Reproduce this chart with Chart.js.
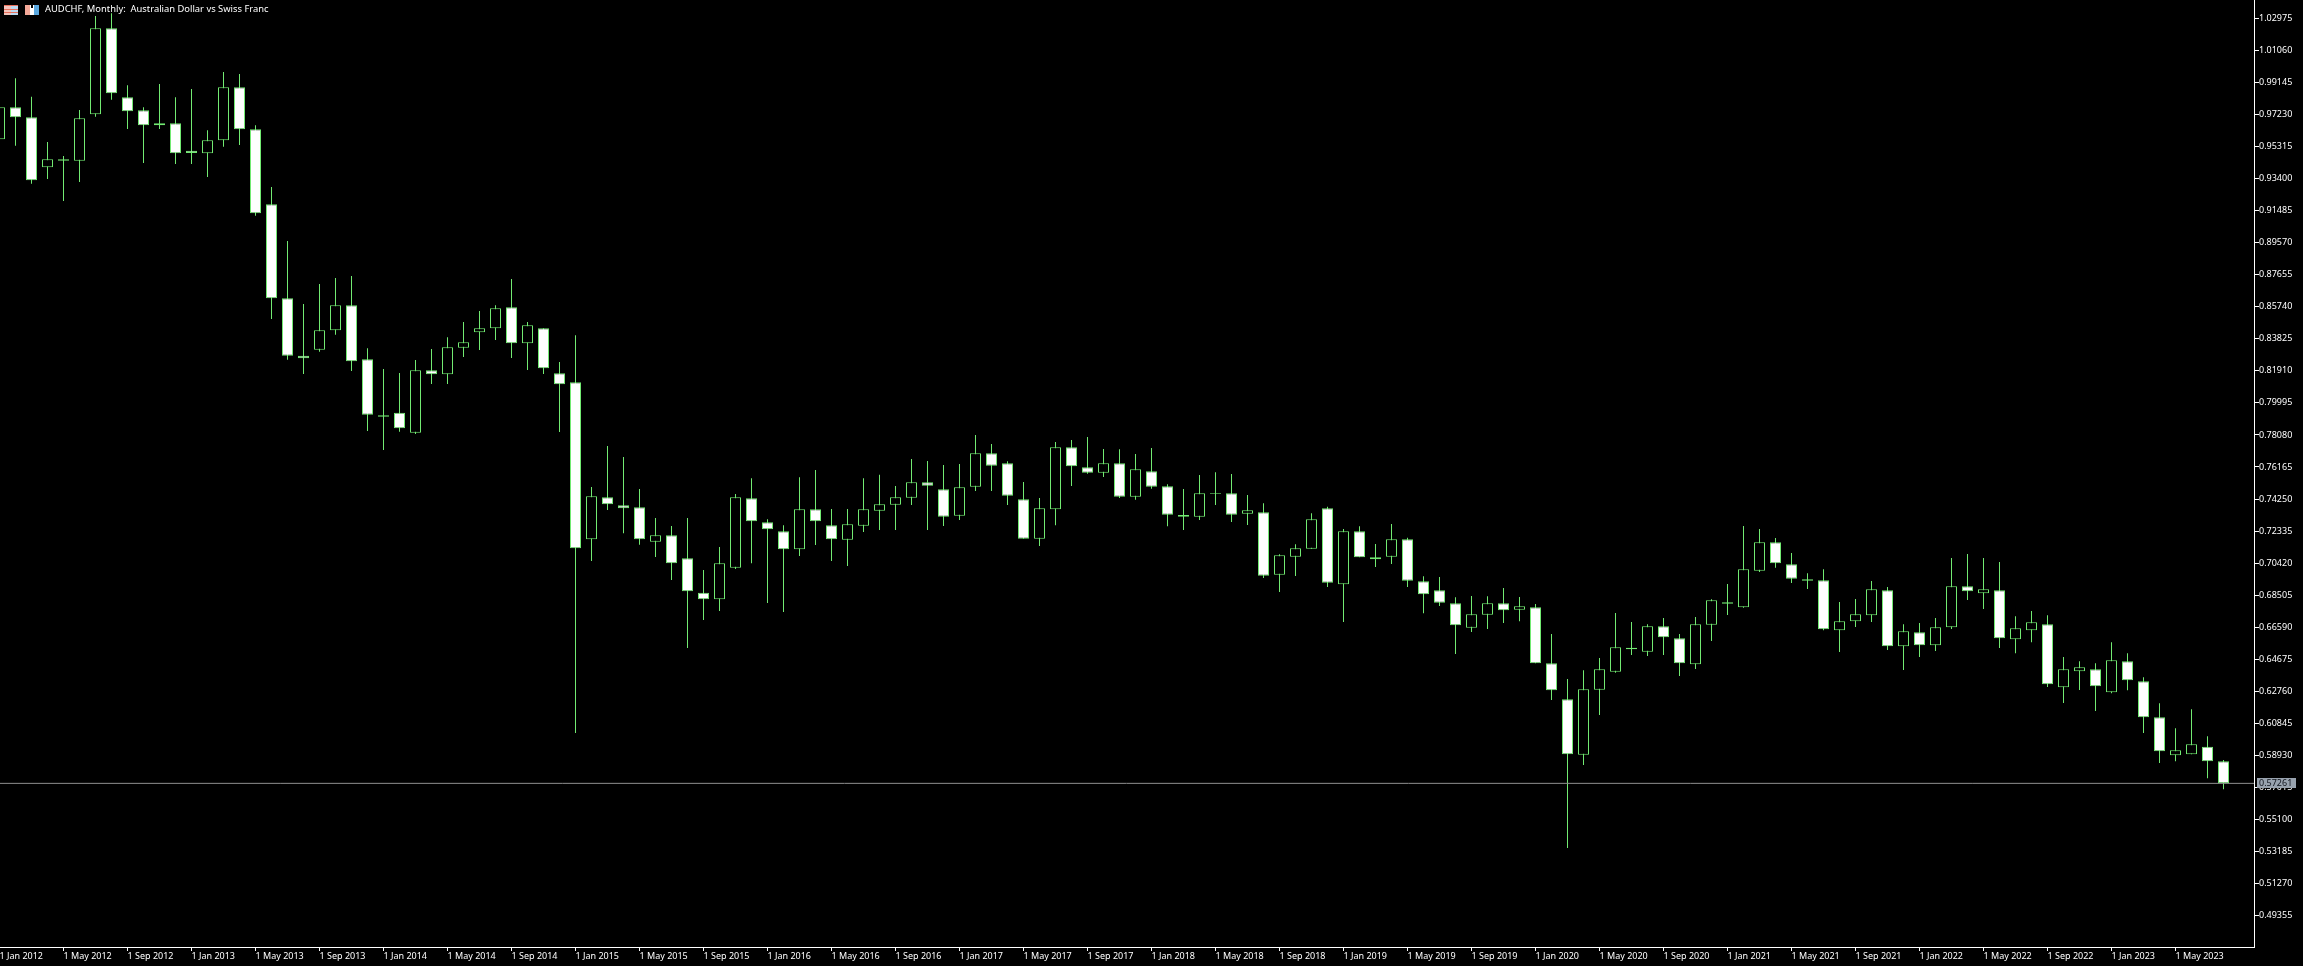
<!DOCTYPE html>
<html>
<head>
  <meta charset="utf-8">
  <title>AUDCHF, Monthly</title>
  <script src="https://cdn.jsdelivr.net/npm/chart.js"></script>
  <style>
    html, body { margin: 0; padding: 0; background: #000; overflow: hidden; }
    #wrap { position: absolute; left: -1px; top: 0; width: 2304px; height: 966px; }
    canvas { display: block; }
  </style>
</head>
<body>
  <div id="wrap"><canvas id="myChart" width="2304" height="966"></canvas></div>
  <script>
    const titleText = 'AUDCHF, Monthly:  Australian Dollar vs Swiss Franc';
    const lastPrice = 0.57261;

    // Monthly candles, Jan 2012 to Aug 2023
    const highP = [
      0.98093, 0.99388, 0.98292, 0.95583, 0.94747, 0.97495, 1.03112, 1.03271, 0.98969, 0.97655, 0.99049, 0.98252,
      0.98750, 0.96280, 0.99766, 0.99646, 0.96579, 0.92895, 0.89668, 0.85904, 0.87099, 0.87457, 0.87577, 0.83255,
      0.82020, 0.81781, 0.82558, 0.83215, 0.83912, 0.84828, 0.85485, 0.85824, 0.87397, 0.84828, 0.84450, 0.82438,
      0.84031, 0.74969, 0.77419, 0.76762, 0.74850, 0.73117, 0.72639, 0.73117, 0.70010, 0.71384, 0.74551, 0.75487,
      0.73037, 0.72679, 0.75547, 0.75985, 0.73655, 0.73655, 0.75488, 0.75707, 0.75029, 0.76643, 0.76523, 0.76284,
      0.76344, 0.78077, 0.77539, 0.76503, 0.75268, 0.74312, 0.77658, 0.77778, 0.77957, 0.77240, 0.77220, 0.76941,
      0.77300, 0.75129, 0.74850, 0.75687, 0.75846, 0.75746, 0.74492, 0.73994, 0.70946, 0.71544, 0.73396, 0.73795,
      0.72460, 0.72619, 0.71564, 0.72759, 0.71942, 0.69632, 0.69592, 0.68377, 0.68457, 0.68437, 0.68935, 0.68397,
      0.67978, 0.66185, 0.63497, 0.64014, 0.64751, 0.67440, 0.66902, 0.66763, 0.67141, 0.66185, 0.67201, 0.68257,
      0.69173, 0.72638, 0.72459, 0.71921, 0.71025, 0.69810, 0.70049, 0.68097, 0.68277, 0.69352, 0.68994, 0.66763,
      0.66843, 0.67141, 0.70726, 0.70965, 0.70726, 0.70487, 0.67241, 0.67560, 0.67301, 0.64811, 0.64552, 0.64433,
      0.65687, 0.65030, 0.63596, 0.62043, 0.60549, 0.61684, 0.60071, 0.58657
    ];
    const lowP = [
      0.95305, 0.95364, 0.93094, 0.93373, 0.92058, 0.93193, 0.97097, 0.98113, 0.96360, 0.94329, 0.96360, 0.94269,
      0.94269, 0.93492, 0.95305, 0.95404, 0.91182, 0.85007, 0.82578, 0.81721, 0.83056, 0.84071, 0.81900, 0.78315,
      0.77180, 0.78275, 0.78136, 0.81123, 0.81123, 0.82737, 0.83155, 0.83752, 0.82677, 0.81960, 0.81721, 0.78255,
      0.60270, 0.70547, 0.73595, 0.72201, 0.71523, 0.70787, 0.69412, 0.65349, 0.67022, 0.67560, 0.70069, 0.70408,
      0.68038, 0.67500, 0.70846, 0.71503, 0.70548, 0.70249, 0.72281, 0.72400, 0.72400, 0.73894, 0.72400, 0.72639,
      0.72998, 0.74731, 0.74731, 0.73894, 0.71883, 0.71444, 0.72679, 0.75029, 0.75766, 0.75567, 0.74312, 0.74213,
      0.74870, 0.72619, 0.72400, 0.72998, 0.73894, 0.72878, 0.72699, 0.69532, 0.68696, 0.69652, 0.71285, 0.68995,
      0.66903, 0.70767, 0.70190, 0.70369, 0.68995, 0.67421, 0.67859, 0.64991, 0.66306, 0.66485, 0.66844, 0.66943,
      0.64433, 0.62242, 0.53399, 0.58358, 0.61346, 0.63875, 0.64931, 0.64871, 0.64931, 0.63676, 0.64094, 0.65767,
      0.67321, 0.67759, 0.69890, 0.70149, 0.69233, 0.68874, 0.66404, 0.65110, 0.66604, 0.66902, 0.65229, 0.64034,
      0.64811, 0.65170, 0.66484, 0.68217, 0.67679, 0.65349, 0.65030, 0.65687, 0.63019, 0.62063, 0.62839, 0.61585,
      0.62640, 0.62819, 0.60270, 0.58477, 0.58577, 0.58995, 0.57561, 0.56904
    ];
    const openP = [
      0.95743, 0.97655, 0.97057, 0.94070, 0.94548, 0.94468, 0.97236, 1.02375, 0.98252, 0.97475, 0.96579, 0.96699,
      0.95066, 0.94906, 0.95683, 0.98850, 0.96340, 0.91859, 0.86242, 0.82817, 0.83175, 0.84330, 0.85824, 0.82597,
      0.79251, 0.79411, 0.78216, 0.81940, 0.81701, 0.83294, 0.84211, 0.84450, 0.85704, 0.83553, 0.84450, 0.81761,
      0.81223, 0.71842, 0.74352, 0.73874, 0.73754, 0.71703, 0.72081, 0.70707, 0.68655, 0.68257, 0.70149, 0.74292,
      0.72858, 0.72320, 0.71245, 0.73635, 0.72679, 0.71823, 0.72659, 0.73556, 0.73914, 0.74332, 0.75249, 0.74830,
      0.73257, 0.74990, 0.76981, 0.76384, 0.74233, 0.71883, 0.73635, 0.77340, 0.76145, 0.75826, 0.76384, 0.74392,
      0.75906, 0.75009, 0.73297, 0.73197, 0.74611, 0.74591, 0.73376, 0.73456, 0.69732, 0.70807, 0.71285, 0.73695,
      0.69154, 0.72321, 0.70767, 0.70807, 0.71843, 0.69333, 0.68795, 0.68019, 0.66565, 0.67341, 0.68019, 0.67640,
      0.67779, 0.64433, 0.62282, 0.58975, 0.62859, 0.63935, 0.65369, 0.65130, 0.66643, 0.65926, 0.64373, 0.66743,
      0.68078, 0.67779, 0.69970, 0.71663, 0.70348, 0.69452, 0.69392, 0.66404, 0.66942, 0.67301, 0.68795, 0.65448,
      0.66285, 0.65508, 0.66584, 0.69034, 0.68615, 0.68795, 0.65867, 0.66404, 0.66763, 0.62999, 0.63955, 0.64074,
      0.62700, 0.64552, 0.63357, 0.61206, 0.58936, 0.58995, 0.59453, 0.58577
    ];
    const closeP = [
      0.97655, 0.97057, 0.93293, 0.94548, 0.94468, 0.96997, 1.02375, 0.98491, 0.97416, 0.96579, 0.96699, 0.94906,
      0.94926, 0.95683, 0.98850, 0.96340, 0.91321, 0.86242, 0.82817, 0.82657, 0.84330, 0.85824, 0.82478, 0.79291,
      0.79172, 0.78475, 0.81940, 0.81701, 0.83314, 0.83613, 0.84450, 0.85645, 0.83553, 0.84629, 0.82059, 0.81103,
      0.71304, 0.74411, 0.73933, 0.73694, 0.71842, 0.72081, 0.70408, 0.68735, 0.68257, 0.70408, 0.74352, 0.72918,
      0.72440, 0.71245, 0.73635, 0.72918, 0.71843, 0.72739, 0.73635, 0.73934, 0.74352, 0.75249, 0.75049, 0.73197,
      0.74950, 0.76981, 0.76244, 0.74452, 0.71883, 0.73695, 0.77340, 0.76205, 0.75826, 0.76384, 0.74392, 0.76025,
      0.74990, 0.73317, 0.73197, 0.74591, 0.74571, 0.73317, 0.73575, 0.69672, 0.70887, 0.71305, 0.73038, 0.69254,
      0.72321, 0.70767, 0.70648, 0.71843, 0.69373, 0.68556, 0.68058, 0.66704, 0.67361, 0.68019, 0.67600, 0.67839,
      0.64433, 0.62819, 0.58995, 0.62879, 0.64074, 0.65389, 0.65269, 0.66643, 0.65986, 0.64433, 0.66763, 0.68197,
      0.67998, 0.70049, 0.71663, 0.70408, 0.69492, 0.69372, 0.66464, 0.66942, 0.67360, 0.68854, 0.65448, 0.66345,
      0.65508, 0.66584, 0.69034, 0.68735, 0.68854, 0.65926, 0.66524, 0.66883, 0.63178, 0.64074, 0.64194, 0.63058,
      0.64612, 0.63417, 0.61206, 0.59175, 0.59234, 0.59593, 0.58577, 0.57263
    ];

    const xTickLabels = [
      '1 Jan 2012', '1 May 2012', '1 Sep 2012', '1 Jan 2013', '1 May 2013', '1 Sep 2013', '1 Jan 2014', '1 May 2014',
      '1 Sep 2014', '1 Jan 2015', '1 May 2015', '1 Sep 2015', '1 Jan 2016', '1 May 2016', '1 Sep 2016', '1 Jan 2017',
      '1 May 2017', '1 Sep 2017', '1 Jan 2018', '1 May 2018', '1 Sep 2018', '1 Jan 2019', '1 May 2019', '1 Sep 2019',
      '1 Jan 2020', '1 May 2020', '1 Sep 2020', '1 Jan 2021', '1 May 2021', '1 Sep 2021', '1 Jan 2022', '1 May 2022',
      '1 Sep 2022', '1 Jan 2023', '1 May 2023'
    ];
    const yTickLabels = [
      '1.02975', '1.01060', '0.99145', '0.97230', '0.95315', '0.93400', '0.91485', '0.89570', '0.87655', '0.85740',
      '0.83825', '0.81910', '0.79995', '0.78080', '0.76165', '0.74250', '0.72335', '0.70420', '0.68505', '0.66590',
      '0.64675', '0.62760', '0.60845', '0.58930', '0.57015', '0.55100', '0.53185', '0.51270', '0.49355'
    ];

    const GREEN = '#72ea72';
    const FONT = '"Noto Sans"';
    const xMin = -1 / 32;
    const xMax = 140.90625;

    const bodies = openP.map((o, i) => ({ x: i, y: [o, closeP[i]] }));
    const wicks = lowP.map((l, i) => ({ x: i, y: [l, highP[i]] }));

    // header text, the two little toolbar icons and the price tag
    const overlay = {
      id: 'overlay',
      afterDraw(chart) {
        const c = chart.ctx;
        c.save();
        // canvas sits 1px left of the page
        c.translate(1, 0);

        c.fillStyle = '#f4c4bc';
        c.fillRect(4, 5, 7, 10);
        c.fillStyle = '#bcd8f0';
        c.fillRect(11, 5, 7, 10);
        c.fillStyle = '#e8705c';
        c.fillRect(4, 5, 14, 1);
        c.fillRect(4, 9, 14, 1);
        c.fillRect(4, 12, 14, 1);
        c.fillStyle = '#f4a898';
        c.fillRect(25, 5, 5, 10);
        c.fillStyle = '#ffffff';
        c.fillRect(30, 5, 4, 10);
        c.fillStyle = '#5aa8e0';
        c.fillRect(34, 5, 5, 10);
        c.fillStyle = '#000';
        c.fillRect(31, 5, 2, 3);

        c.font = '9.4px ' + FONT;
        c.textBaseline = 'middle';
        c.textAlign = 'left';
        c.fillStyle = '#ffffff';
        c.fillText(titleText, 45, 9.5);

        const py = chart.scales.y.getPixelForValue(lastPrice);
        c.font = '9px ' + FONT;
        c.fillStyle = '#98a2ae';
        c.fillRect(2257, Math.round(py) - 5, 39, 10);
        c.fillStyle = '#10141c';
        c.fillText(lastPrice.toFixed(5), 2259, Math.round(py) + 0.5);
        c.restore();
      }
    };

    new Chart(document.getElementById('myChart').getContext('2d'), {
      type: 'bar',
      data: {
        datasets: [
          {
            label: 'Body',
            data: bodies,
            grouped: false,
            barThickness: 11,
            borderWidth: 1,
            borderSkipped: false,
            inflateAmount: 0,
            borderColor: GREEN,
            backgroundColor: openP.map((o, i) => (closeP[i] > o ? '#000000' : '#ffffff'))
          },
          {
            type: 'line',
            label: 'Last',
            data: [{ x: xMin, y: lastPrice }, { x: xMax, y: lastPrice }],
            borderColor: '#8f8f8f',
            borderWidth: 1,
            pointRadius: 0
          },
          {
            label: 'Wick',
            data: wicks,
            grouped: false,
            barThickness: 1,
            borderWidth: 0,
            inflateAmount: 0,
            backgroundColor: GREEN
          }
        ]
      },
      options: {
        responsive: false,
        animation: false,
        layout: { padding: 0 },
        plugins: { legend: { display: false }, tooltip: { enabled: false } },
        scales: {
          x: {
            type: 'linear',
            offset: false,
            min: xMin,
            max: xMax,
            border: { color: '#ffffff', width: 1 },
            grid: { offset: false, drawOnChartArea: false, tickLength: 4, color: '#ffffff' },
            afterFit: (s) => {
              s.height = 19;
              s.paddingLeft = 0;
              s.paddingRight = 0;
            },
            afterBuildTicks: (s) => { s.ticks = xTickLabels.map((_, k) => ({ value: k * 4 })); },
            ticks: {
              autoSkip: false,
              maxRotation: 0,
              align: 'start',
              padding: 0,
              color: '#ffffff',
              font: { family: FONT, size: 9 },
              callback: (v) => xTickLabels[v / 4]
            }
          },
          y: {
            position: 'right',
            min: 0.47484,
            max: 1.04068,
            border: { color: '#ffffff', width: 1 },
            grid: { drawOnChartArea: false, tickLength: 5, color: '#ffffff' },
            afterFit: (s) => {
              s.width = 49;
              s.paddingTop = 0;
              s.paddingBottom = 0;
            },
            afterBuildTicks: (s) => { s.ticks = yTickLabels.map((t) => ({ value: parseFloat(t) })); },
            ticks: {
              autoSkip: false,
              padding: 0,
              color: '#ffffff',
              font: { family: FONT, size: 9 },
              callback: (v) => v.toFixed(5)
            }
          }
        }
      },
      plugins: [overlay]
    });
  </script>
</body>
</html>
